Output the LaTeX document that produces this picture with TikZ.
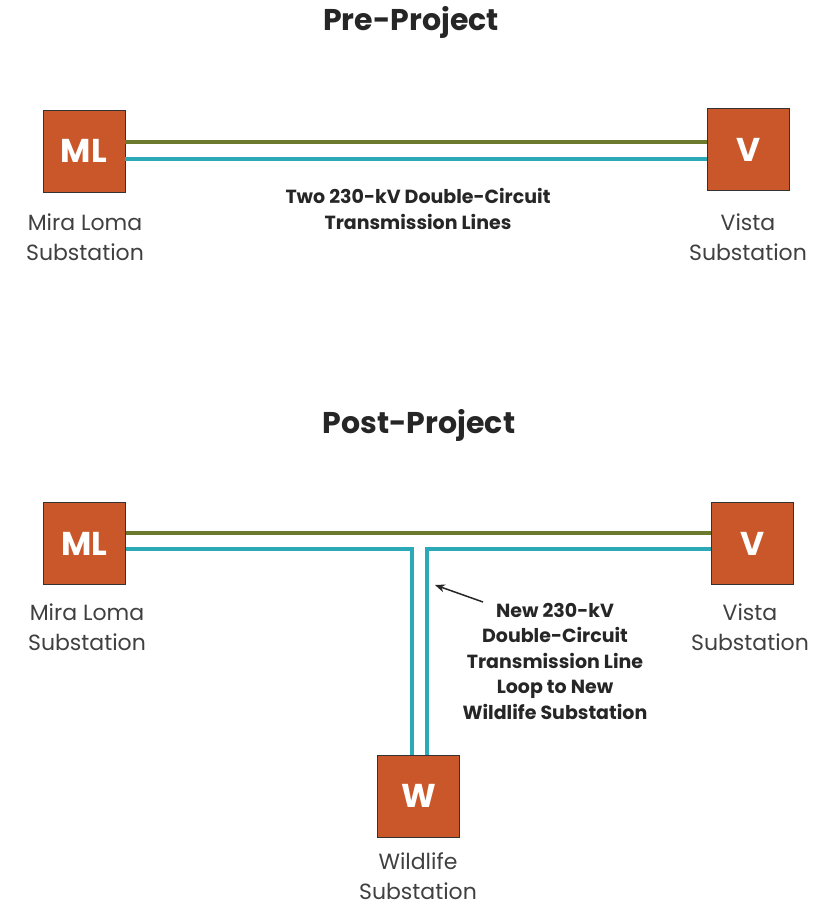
\documentclass[tikz,border=0pt]{standalone}
\usepackage{fontspec}
\setmainfont{Poppins}
\usetikzlibrary{arrows.meta}
\definecolor{subbox}{HTML}{C9572A}
\definecolor{grnline}{HTML}{6B7A2C}
\definecolor{cyline}{HTML}{2CA9B6}
\tikzset{
  sub/.style={draw=black!80,line width=0.8pt,fill=subbox,minimum size=82pt,inner sep=0pt,
    text=white,font=\fontsize{33}{35}\selectfont\bfseries},
  lbl/.style={align=center,inner sep=0pt,font=\fontsize{22}{30}\selectfont,text=black!75},
  note/.style={align=center,font=\fontsize{19}{25.5}\selectfont\bfseries,text=black!85},
  ttl/.style={font=\fontsize{30}{32}\selectfont\bfseries,text=black!85},
  grn/.style={draw=grnline,line width=3.5pt},
  cy/.style={draw=cyline,line width=3.5pt},
}
\begin{document}
\begin{tikzpicture}[x=1pt,y=-1pt]
\useasboundingbox (0,0) rectangle (822,906);
% pre-project
\node [ttl,name=t1] at (411,22){Pre-Project};
\node [sub,name=ml1] at (84,151){ML};
\node [sub,name=v1] at (748.5,149.5){V};
\node [lbl,name=ml1l] at (85,237){Mira Loma\\Substation};
\node [lbl,name=v1l] at (748,237){Vista\\Substation};
\node [note,name=n1] at (418,209){Two 230-kV Double-Circuit\\Transmission Lines};
\draw[grn] (ml1.east |- 0,142)--(v1.west |- 0,142);
\draw[cy] (ml1.east |- 0,159)--(v1.west |- 0,159);
% post-project
\node [ttl,name=t2] at (419,425){Post-Project};
\node [sub,name=ml2] at (84.5,543.5){ML};
\node [sub,name=v2] at (752.5,543.5){V};
\node [sub,name=w2] at (418.5,796){W};
\node [lbl,name=ml2l] at (87,627){Mira Loma\\Substation};
\node [lbl,name=v2l] at (750,627){Vista\\Substation};
\node [lbl,name=w2l] at (418,876){Wildlife\\Substation};
\node [note,name=n2] at (555,661){New 230-kV\\Double-Circuit\\Transmission Line\\Loop to New\\Wildlife Substation};
\coordinate (c1) at (412,549);
\coordinate (c2) at (427,549);
\draw[grn] (ml2.east |- 0,533)--(v2.west |- 0,533);
\draw[cy] (ml2.east |- c1)--(c1)--(c1 |- w2.north);
\draw[cy] (v2.west |- c2)--(c2)--(c2 |- w2.north);
\coordinate (a0) at (483,602);
\coordinate (a1) at (435,585);
\draw[-{Stealth[length=10pt,width=8pt]},line width=1.5pt,black!85] (a0)--(a1);
\end{tikzpicture}
\end{document}
